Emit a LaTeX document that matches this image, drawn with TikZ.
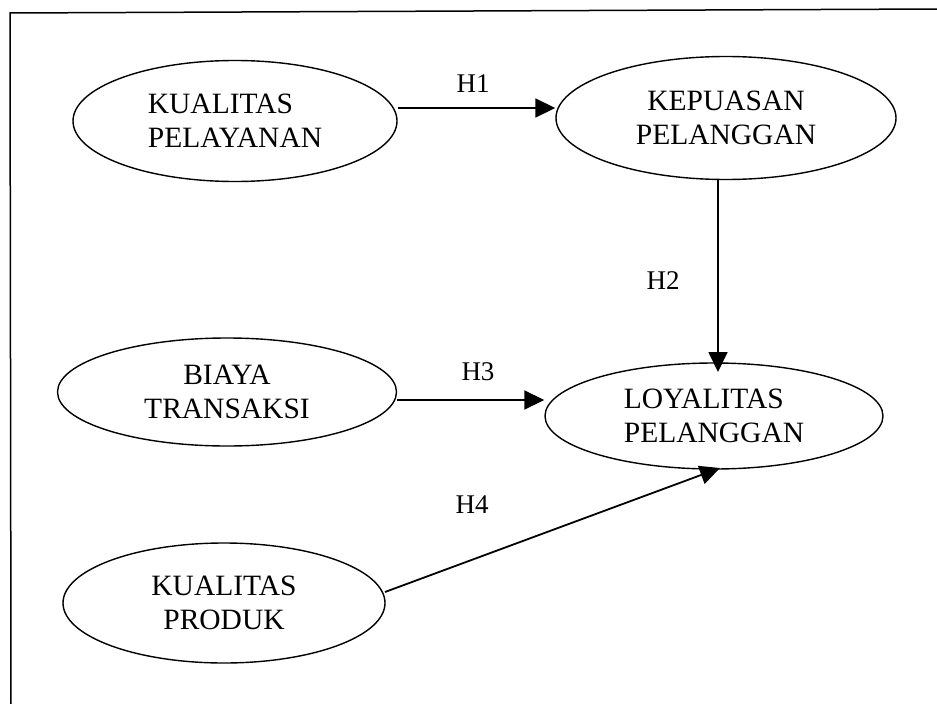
\documentclass[tikz,border=0pt]{standalone}
\usepackage{fontspec}
\setmainfont{Liberation Serif}
\usetikzlibrary{shapes.geometric,arrows.meta}
\begin{document}
\begin{tikzpicture}[x=1pt,y=-1pt,
  construct/.style={ellipse,draw,line width=1.4pt,inner sep=0pt,align=center,
    font=\fontsize{29.5}{34}\selectfont},
  path/.style={draw,line width=1.8pt,-{Triangle[length=20pt,width=19pt]}},
  hyp/.style={font=\fontsize{27}{30}\selectfont}]
\useasboundingbox (0,0) rectangle (937,704);
% frame (left and top edges only)
\draw[line width=1.5pt] (11,704) -- (10,13) -- (937,9);

\node[construct,align=left,minimum width=324pt,minimum height=121pt] (kp) at (235,121) {KUALITAS\\PELAYANAN};
\node[construct,minimum width=340pt,minimum height=123pt] (kep) at (726,118) {KEPUASAN\\PELANGGAN};
\node[construct,minimum width=339pt,minimum height=108pt] (bt) at (227,392) {BIAYA\\TRANSAKSI};
\node[construct,align=left,minimum width=338pt,minimum height=106pt] (loy) at (714,416) {LOYALITAS\\PELANGGAN};
\node[construct,minimum width=322pt,minimum height=120pt] (prod) at (224,603) {KUALITAS\\PRODUK};

\coordinate (h4end) at (720,468);

\draw[path] (kp.east |- 0,108) -- (kep.west |- 0,108);
\draw[path] (kep.south -| 718,0) -- (718,372);
\draw[path] (bt.east |- 0,400) -- (loy.west |- 0,400);
\draw[path] (385,592) -- (h4end);

\node[hyp] (h1) at (473,84) {H1};
\node[hyp] (h2) at (663,281) {H2};
\node[hyp] (h3) at (478,372) {H3};
\node[hyp] (h4) at (472,505) {H4};
\end{tikzpicture}
\end{document}
